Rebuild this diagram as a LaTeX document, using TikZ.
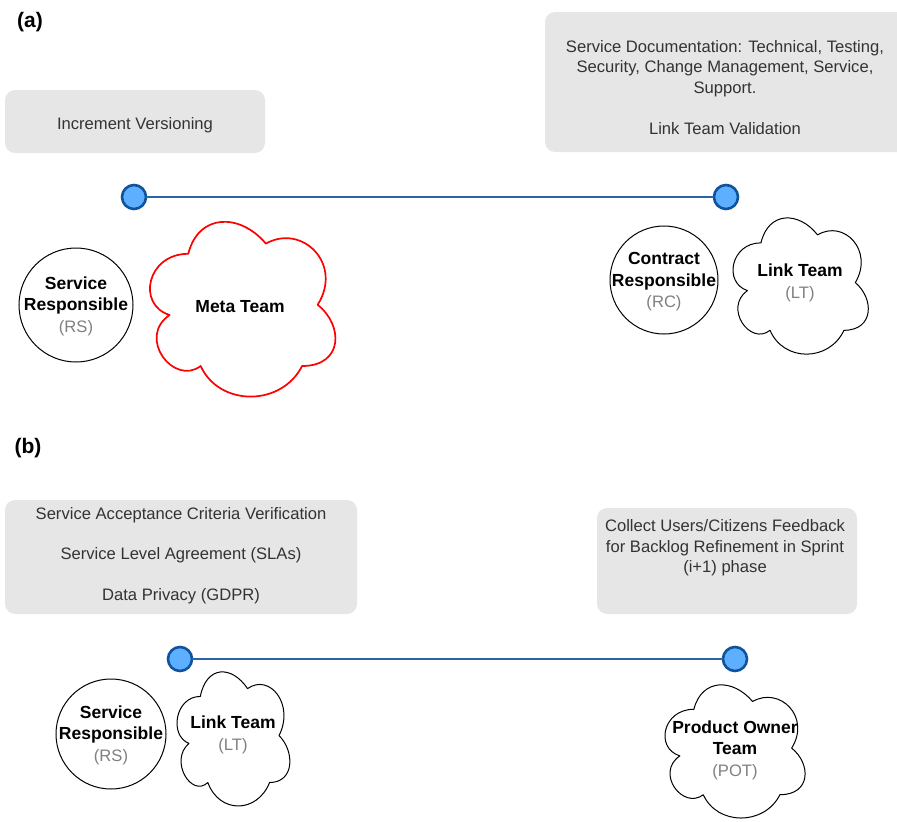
\documentclass[tikz,border=0pt]{standalone}
\usepackage{fontspec}
\setmainfont{Liberation Sans}
\definecolor{boxgray}{HTML}{E6E6E6}
\definecolor{boxtext}{HTML}{333333}
\definecolor{subgray}{HTML}{808080}
\definecolor{lineblue}{HTML}{2B63A6}
\definecolor{dotfill}{HTML}{5CB0FF}
\definecolor{dotdraw}{HTML}{0F539E}
\definecolor{cloudred}{HTML}{FF0000}
% draw.io style cloud: style, left, top, width, height
\newcommand\drawiocloud[5]{%
  \draw[#1, shift={(#2,#3)}, x={(#4pt,0pt)}, y={(0pt,-#5pt)}]
    (0.25,0.25) .. controls (0.05,0.25) and (0,0.5) .. (0.16,0.55)
    .. controls (0,0.66) and (0.18,0.9) .. (0.31,0.8)
    .. controls (0.4,1) and (0.7,1) .. (0.8,0.8)
    .. controls (1,0.8) and (1,0.6) .. (0.875,0.5)
    .. controls (1,0.3) and (0.8,0.1) .. (0.625,0.2)
    .. controls (0.5,0.05) and (0.3,0.05) .. (0.25,0.25) -- cycle;}
\begin{document}
\begin{tikzpicture}[x=1pt,y=-1pt,
  every node/.style={font=\fontsize{16.6}{20.5}\selectfont, inner sep=0pt, outer sep=0pt},
  graybox/.style={fill=boxgray, rounded corners=10pt, draw=none},
  boxlabel/.style={text=boxtext, align=center},
  dot/.style={circle, fill=dotfill, draw=dotdraw, line width=2.6pt, minimum size=24pt},
  tline/.style={draw=lineblue, line width=2pt},
  role/.style={circle, draw=black, line width=1pt, fill=white},
  teamline/.style={draw=black, line width=1pt, fill=white, line join=round},
  redline/.style={draw=cloudred, line width=1.7pt, fill=white, line join=round},
  inlabel/.style={align=center, text=black, font=\fontsize{16.6}{21.5}\selectfont},
  bf/.style={},
  tag/.style={font=\fontsize{21}{24}\selectfont\bfseries}
]
\newcommand\bt[1]{{\fontsize{17.5}{21.5}\selectfont\bfseries #1}}
\useasboundingbox (0,0) rectangle (897,822);

% ---------- (a) ----------
\node[tag] (taga) at (30,22) {(a)};

\path[graybox] (5,90) rectangle (265,153);
\node[boxlabel] (boxa1text) at (135,125) {Increment Versioning};

\begin{scope}
\clip (0,0) rectangle (897,822);
\path[graybox] (545,12) rectangle (912,152);
\end{scope}
\node[boxlabel] (boxa2text) at (725,87.5) {Service Documentation: Technical, Testing,\\Security, Change Management, Service,\\Support.\\[20.5pt]Link Team Validation};

\node[dot] (a1) at (134,197) {};
\node[dot] (a2) at (726,197) {};
\draw[tline] (a1) -- (a2);

\node[role, minimum size=114pt] (rsa) at (76,305) {};
\node[inlabel] (rsatext) at (76,306) {\bt{Service}\\\bt{Responsible}\\\textcolor{subgray}{(RS)}};

\drawiocloud{redline}{136.5}{202.8}{207}{204}
\node[inlabel] (metatext) at (240,307) {\bt{Meta Team}};

\node[role, minimum size=108pt] (rc) at (664,280) {};
\node[inlabel] (rctext) at (664,282) {\bt{Contract}\\\bt{Responsible}\\\textcolor{subgray}{(RC)}};

\drawiocloud{teamline}{723.2}{203.1}{151}{159}
\node[inlabel] (ltatext) at (800,283) {\bt{Link Team}\\\textcolor{subgray}{(LT)}};

% ---------- (b) ----------
\node[tag] (tagb) at (28,448) {(b)};

\path[graybox] (5,500) rectangle (357,614);
\node[boxlabel] (boxb1text) at (181,555.5) {Service Acceptance Criteria Verification\\[20pt]Service Level Agreement (SLAs)\\[20pt]Data Privacy (GDPR)};

\path[graybox] (597,508) rectangle (857,614);
\node[boxlabel] (boxb2text) at (725,548) {Collect Users/Citizens Feedback\\for Backlog Refinement in Sprint\\(i+1) phase};

\node[dot] (b1) at (180,659) {};
\node[dot] (b2) at (735,659) {};
\draw[tline] (b1) -- (b2);

\node[role, minimum size=110pt] (rsb) at (111,734) {};
\node[inlabel] (rsbtext) at (111,735) {\bt{Service}\\\bt{Responsible}\\\textcolor{subgray}{(RS)}};

\drawiocloud{teamline}{168.8}{657.3}{126}{156.5}
\node[inlabel] (ltbtext) at (233,735) {\bt{Link Team}\\\textcolor{subgray}{(LT)}};

\drawiocloud{teamline}{654.8}{670.4}{156.4}{155.4}
\node[inlabel] (pottext) at (735,750) {\bt{Product Owner}\\\bt{Team}\\\textcolor{subgray}{(POT)}};
\end{tikzpicture}
\end{document}
